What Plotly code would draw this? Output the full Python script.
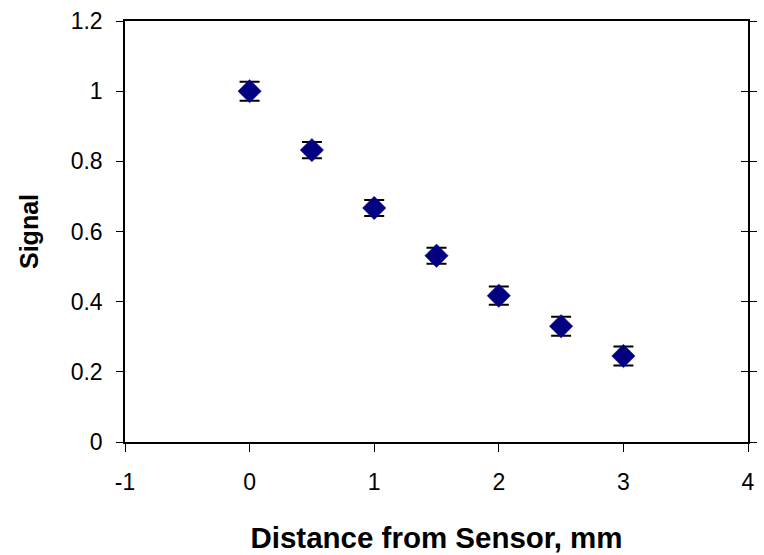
import plotly.graph_objects as go

distance_mm = [0, 0.5, 1.0, 1.5, 2.0, 2.5, 3.0]
signal = [1.0, 0.832, 0.667, 0.531, 0.417, 0.330, 0.245]
signal_err = [0.027, 0.023, 0.023, 0.023, 0.026, 0.027, 0.027]

x_tick_vals = [-1, 0, 1, 2, 3, 4]
x_tick_text = ["-1", "0", "1", "2", "3", "4"]
y_tick_vals = [0, 0.2, 0.4, 0.6, 0.8, 1.0, 1.2]
y_tick_text = ["0", "0.2", "0.4", "0.6", "0.8", "1", "1.2"]

FONT = "Liberation Sans, Arial, sans-serif"

fig = go.Figure()
fig.add_trace(go.Scatter(
    x=distance_mm, y=signal, mode="markers",
    marker=dict(symbol="diamond", size=18, color="#000080",
                line=dict(color="#1a1a99", width=0.5)),
    error_y=dict(type="data", array=signal_err, visible=True,
                 color="black", thickness=2, width=10),
    showlegend=False,
))
# invisible helper trace for the right-hand crossing ticks
fig.add_trace(go.Scatter(x=[None], y=[None], yaxis="y2", showlegend=False,
                         hoverinfo="skip"))

fig.update_layout(
    width=764, height=555,
    margin=dict(l=125, r=16, t=21, b=113, autoexpand=False),
    paper_bgcolor="white", plot_bgcolor="white",
    font=dict(family=FONT, size=23, color="black"),
    xaxis=dict(
        range=[-1, 4], tickvals=x_tick_vals, ticktext=x_tick_text,
        showgrid=False, zeroline=False, automargin=False,
        showline=True, linecolor="black", linewidth=1.5, mirror=True,
        ticks="outside", ticklen=8, tickwidth=1, tickcolor="black",
        tickfont=dict(size=23), ticklabelstandoff=11,
        title=dict(text="<b>Distance from Sensor, mm</b>",
                   font=dict(size=29.5), standoff=33),
    ),
    yaxis=dict(
        range=[0, 1.2], tickvals=y_tick_vals, ticktext=y_tick_text,
        showgrid=False, zeroline=False, automargin=False,
        showline=True, linecolor="black", linewidth=1.5, mirror="ticks",
        ticks="outside", ticklen=7, tickwidth=1, tickcolor="black",
        tickfont=dict(size=23), ticklabelstandoff=9,
        title=dict(text="<b>Signal</b>", font=dict(size=25), standoff=25),
    ),
    yaxis2=dict(
        range=[0, 1.2], tickvals=y_tick_vals, overlaying="y", side="right",
        showgrid=False, zeroline=False, showline=False, automargin=False,
        ticks="inside", ticklen=7, tickwidth=1, tickcolor="black",
        showticklabels=False,
    ),
)

fig.write_html("out.html", config={"displayModeBar": False},
               post_script="document.body.style.margin='0';")
